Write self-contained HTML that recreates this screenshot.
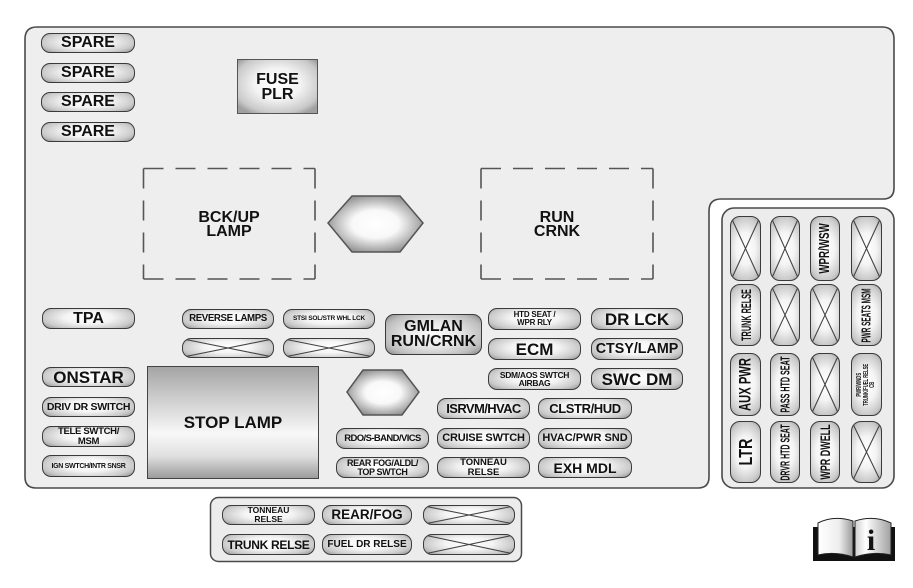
<!DOCTYPE html>
<html><head><meta charset="utf-8">
<style>
html,body{margin:0;padding:0;background:#fff;}
body{width:913px;height:588px;position:relative;overflow:hidden;font-family:"Liberation Sans",Arial,sans-serif;}
.c{position:absolute;box-sizing:border-box;border:1.6px solid #3a3a3a;border-radius:9px;display:flex;align-items:center;justify-content:center;text-align:center;font-weight:bold;color:#111;line-height:1;white-space:nowrap;overflow:visible;
background:radial-gradient(ellipse 62% 80% at 50% 45%,#ffffff 0%,#f4f4f4 42%,#cacaca 80%,#9c9c9c 100%);}
.v{border-radius:10px;background:radial-gradient(ellipse 80% 62% at 50% 50%,#ffffff 0%,#f4f4f4 42%,#cacaca 80%,#9c9c9c 100%);}
.v span{display:block;white-space:nowrap;}
.x{overflow:hidden;}
.x svg{position:absolute;left:0;top:0;width:100%;height:100%;}
.t{position:absolute;font-weight:bold;text-align:center;line-height:14px;font-size:16px;color:#111;}
</style></head><body>
<svg width="913" height="588" style="position:absolute;left:0;top:0">
<defs>
<radialGradient id="hx" cx="50%" cy="50%" r="55%">
<stop offset="0" stop-color="#ffffff"/><stop offset="0.45" stop-color="#f8f8f8"/><stop offset="1" stop-color="#8c8c8c"/>
</radialGradient>
<linearGradient id="pg" x1="0" y1="0" x2="1" y2="0">
<stop offset="0" stop-color="#ffffff"/><stop offset="0.6" stop-color="#eeeeee"/><stop offset="1" stop-color="#9a9a9a"/>
</linearGradient>
<linearGradient id="pg2" x1="0" y1="0" x2="1" y2="0">
<stop offset="0" stop-color="#cfcfcf"/><stop offset="0.3" stop-color="#ffffff"/><stop offset="1" stop-color="#a0a0a0"/>
</linearGradient>
</defs>
<path d="M37,27 H882 Q894,27 894,39 V188 Q894,199 883,199 H721 Q709,199 709,211 V477 Q709,488 698,488 H36 Q25,488 25,477 V39 Q25,27 37,27 Z" fill="#eeeeee" stroke="#4a4a4a" stroke-width="1.6"/>
<rect x="722" y="208" width="172" height="280" rx="12" fill="#ececec" stroke="#4a4a4a" stroke-width="1.6"/>
<rect x="210.5" y="497.5" width="311" height="64" rx="8" fill="#ececec" stroke="#4a4a4a" stroke-width="1.5"/>
<g fill="none" stroke="#555" stroke-width="1.6" stroke-dasharray="20 12">
<path d="M143.5,168.5 H315"/><path d="M143.5,279 H315"/><path d="M143.5,168.5 V279"/><path d="M315,168.5 V279"/>
<path d="M481,168.5 H653"/><path d="M481,279 H653"/><path d="M481,168.5 V279"/><path d="M653,168.5 V279"/>
</g>
<polygon points="328,223 352,196 400,196 423,223 400,252 352,252" fill="url(#hx)" stroke="#555" stroke-width="1.5"/>
<polygon points="347,392 363,370 402,370 419,392 402,415 363,415" fill="url(#hx)" stroke="#555" stroke-width="1.5"/>
<g transform="translate(810,514)">
<path d="M3,13 H85 V47 H3 Z" fill="#111"/>
<path d="M8,9 Q24,1 43,7 L43,43 Q25,37 8,41 Z" fill="url(#pg)" stroke="#222" stroke-width="1"/>
<path d="M45,7 Q64,1 81,9 L81,41 Q64,37 45,43 Z" fill="url(#pg2)" stroke="#222" stroke-width="1"/>
<text x="61" y="36" font-family="Liberation Serif, serif" font-weight="bold" font-size="30" text-anchor="middle" fill="#111">i</text>
</g>
</svg>

<div class="c" style="left:41px;top:33px;width:94px;height:20px;font-size:16px;">SPARE</div>
<div class="c" style="left:41px;top:63px;width:94px;height:20px;font-size:16px;">SPARE</div>
<div class="c" style="left:41px;top:92px;width:94px;height:20px;font-size:16px;">SPARE</div>
<div class="c" style="left:41px;top:122px;width:94px;height:20px;font-size:16px;">SPARE</div>

<div class="c" style="left:237px;top:59px;width:81px;height:55px;border-radius:0;border-color:#555;font-size:16px;line-height:15px;background:radial-gradient(ellipse 65% 65% at 50% 45%,#fff 0%,#f3f3f3 45%,#c9c9c9 85%,#a0a0a0 100%);">FUSE<br>PLR</div>

<div class="t" style="left:143px;top:211px;width:172px;">BCK/UP<br>LAMP</div>
<div class="t" style="left:517px;top:211px;width:80px;">RUN<br>CRNK</div>

<div class="c" style="left:42px;top:308px;width:93px;height:21px;font-size:16px;">TPA</div>
<div class="c" style="left:42px;top:367px;width:93px;height:20px;font-size:17px;">ONSTAR</div>
<div class="c" style="left:42px;top:397px;width:93px;height:20px;font-size:10.5px;letter-spacing:-0.3px;">DRIV DR SWITCH</div>
<div class="c" style="left:42px;top:426px;width:93px;height:21px;font-size:9.5px;line-height:9.5px;letter-spacing:-0.3px;">TELE SWTCH/<br>MSM</div>
<div class="c" style="left:42px;top:455px;width:93px;height:22px;font-size:7px;letter-spacing:-0.3px;">IGN SWTCH/INTR SNSR</div>

<div class="c" style="left:147px;top:366px;width:172px;height:113px;border-radius:0;border-color:#444;font-size:17px;background:linear-gradient(to bottom,#a4a4a4 0%,#cdcdcd 28%,#f8f8f8 60%,#e0e0e0 80%,#9c9c9c 100%);">STOP LAMP</div>

<div class="c" style="left:182px;top:309px;width:92px;height:20px;font-size:9.7px;letter-spacing:-0.4px;">REVERSE LAMPS</div>
<div class="c" style="left:283px;top:309px;width:92px;height:20px;font-size:6.5px;letter-spacing:-0.2px;">STSI SOL/STR WHL LCK</div>
<div class="c x" style="left:182px;top:338px;width:92px;height:20px;"><svg viewBox="0 0 100 100" preserveAspectRatio="none"><path d="M0 0L100 100M0 100L100 0" stroke="#444" stroke-width="1.1" vector-effect="non-scaling-stroke" fill="none"/></svg></div>
<div class="c x" style="left:283px;top:338px;width:92px;height:20px;"><svg viewBox="0 0 100 100" preserveAspectRatio="none"><path d="M0 0L100 100M0 100L100 0" stroke="#444" stroke-width="1.1" vector-effect="non-scaling-stroke" fill="none"/></svg></div>

<div class="c" style="left:385px;top:314px;width:97px;height:41px;font-size:16px;line-height:14.5px;background:radial-gradient(ellipse 62% 70% at 50% 50%,#fafafa 0%,#e8e8e8 45%,#bdbdbd 85%,#9a9a9a 100%);">GMLAN<br>RUN/CRNK</div>

<div class="c" style="left:488px;top:308px;width:93px;height:22px;font-size:8px;line-height:8.5px;letter-spacing:-0.2px;">HTD SEAT /<br>WPR RLY</div>
<div class="c" style="left:591px;top:308px;width:92px;height:22px;font-size:17px;">DR LCK</div>
<div class="c" style="left:488px;top:338px;width:93px;height:22px;font-size:17px;">ECM</div>
<div class="c" style="left:591px;top:338px;width:92px;height:22px;font-size:14.3px;">CTSY/LAMP</div>
<div class="c" style="left:488px;top:368px;width:93px;height:22px;font-size:8.5px;line-height:8px;letter-spacing:-0.3px;">SDM/AOS SWTCH<br>AIRBAG</div>
<div class="c" style="left:591px;top:368px;width:92px;height:22px;font-size:17px;">SWC DM</div>

<div class="c" style="left:437px;top:398px;width:93px;height:21px;font-size:13px;letter-spacing:-0.6px;">ISRVM/HVAC</div>
<div class="c" style="left:538px;top:398px;width:94px;height:21px;font-size:13px;letter-spacing:-0.4px;">CLSTR/HUD</div>
<div class="c" style="left:336px;top:428px;width:93px;height:21px;font-size:9.5px;letter-spacing:-0.6px;">RDO/S-BAND/VICS</div>
<div class="c" style="left:437px;top:428px;width:93px;height:21px;font-size:11px;letter-spacing:-0.2px;">CRUISE SWTCH</div>
<div class="c" style="left:538px;top:428px;width:94px;height:21px;font-size:11px;">HVAC/PWR SND</div>
<div class="c" style="left:336px;top:457px;width:93px;height:21px;font-size:9px;line-height:9px;letter-spacing:-0.4px;">REAR FOG/ALDL/<br>TOP SWTCH</div>
<div class="c" style="left:437px;top:457px;width:93px;height:21px;font-size:9.5px;line-height:9.5px;">TONNEAU<br>RELSE</div>
<div class="c" style="left:538px;top:457px;width:94px;height:21px;font-size:14px;">EXH MDL</div>

<div class="c" style="left:222px;top:505px;width:93px;height:20px;font-size:8.5px;line-height:9.5px;">TONNEAU<br>RELSE</div>
<div class="c" style="left:322px;top:505px;width:90px;height:20px;font-size:13.5px;">REAR/FOG</div>
<div class="c x" style="left:423px;top:505px;width:92px;height:20px;"><svg viewBox="0 0 100 100" preserveAspectRatio="none"><path d="M0 0L100 100M0 100L100 0" stroke="#444" stroke-width="1.1" vector-effect="non-scaling-stroke" fill="none"/></svg></div>
<div class="c" style="left:222px;top:534px;width:93px;height:21px;font-size:12px;letter-spacing:-0.3px;">TRUNK RELSE</div>
<div class="c" style="left:322px;top:534px;width:90px;height:21px;font-size:10px;">FUEL DR RELSE</div>
<div class="c x" style="left:423px;top:534px;width:92px;height:21px;"><svg viewBox="0 0 100 100" preserveAspectRatio="none"><path d="M0 0L100 100M0 100L100 0" stroke="#444" stroke-width="1.1" vector-effect="non-scaling-stroke" fill="none"/></svg></div>

<div class="c v x" style="left:730px;top:216px;width:31px;height:65px;"><svg viewBox="0 0 100 100" preserveAspectRatio="none"><path d="M0 0L100 100M0 100L100 0" stroke="#444" stroke-width="1.1" vector-effect="non-scaling-stroke" fill="none"/></svg></div>
<div class="c v x" style="left:770px;top:216px;width:30px;height:65px;"><svg viewBox="0 0 100 100" preserveAspectRatio="none"><path d="M0 0L100 100M0 100L100 0" stroke="#444" stroke-width="1.1" vector-effect="non-scaling-stroke" fill="none"/></svg></div>
<div class="c v" style="left:810px;top:216px;width:30px;height:65px;"><span style="font-size:15px;transform:rotate(-90deg) scaleX(.65);">WPR/WSW</span></div>
<div class="c v x" style="left:851px;top:216px;width:31px;height:65px;"><svg viewBox="0 0 100 100" preserveAspectRatio="none"><path d="M0 0L100 100M0 100L100 0" stroke="#444" stroke-width="1.1" vector-effect="non-scaling-stroke" fill="none"/></svg></div>

<div class="c v" style="left:730px;top:284px;width:31px;height:62px;"><span style="font-size:14px;transform:rotate(-90deg) scaleX(.52);">TRUNK RELSE</span></div>
<div class="c v x" style="left:770px;top:284px;width:30px;height:62px;"><svg viewBox="0 0 100 100" preserveAspectRatio="none"><path d="M0 0L100 100M0 100L100 0" stroke="#444" stroke-width="1.1" vector-effect="non-scaling-stroke" fill="none"/></svg></div>
<div class="c v x" style="left:810px;top:284px;width:30px;height:62px;"><svg viewBox="0 0 100 100" preserveAspectRatio="none"><path d="M0 0L100 100M0 100L100 0" stroke="#444" stroke-width="1.1" vector-effect="non-scaling-stroke" fill="none"/></svg></div>
<div class="c v" style="left:851px;top:284px;width:31px;height:62px;"><span style="font-size:13px;transform:rotate(-90deg) scaleX(.49);">PWR SEATS MSM</span></div>

<div class="c v" style="left:730px;top:353px;width:31px;height:63px;"><span style="font-size:17px;transform:rotate(-90deg) scaleX(.66);">AUX PWR</span></div>
<div class="c v" style="left:770px;top:353px;width:30px;height:63px;"><span style="font-size:13px;transform:rotate(-90deg) scaleX(.55);">PASS HTD SEAT</span></div>
<div class="c v x" style="left:810px;top:353px;width:30px;height:63px;"><svg viewBox="0 0 100 100" preserveAspectRatio="none"><path d="M0 0L100 100M0 100L100 0" stroke="#444" stroke-width="1.1" vector-effect="non-scaling-stroke" fill="none"/></svg></div>
<div class="c v" style="left:851px;top:353px;width:31px;height:63px;"><span style="font-size:7px;line-height:6.5px;text-align:center;transform:rotate(-90deg) scaleX(.6);">PWR/WNDS<br>TRUNK/FUEL RELSE<br>CB</span></div>

<div class="c v" style="left:730px;top:421px;width:31px;height:62px;"><span style="font-size:18px;transform:rotate(-90deg) scaleX(.8);">LTR</span></div>
<div class="c v" style="left:770px;top:421px;width:30px;height:62px;"><span style="font-size:13px;transform:rotate(-90deg) scaleX(.54);">DRVR HTD SEAT</span></div>
<div class="c v" style="left:810px;top:421px;width:30px;height:62px;"><span style="font-size:14px;transform:rotate(-90deg) scaleX(.64);">WPR DWELL</span></div>
<div class="c v x" style="left:851px;top:421px;width:31px;height:62px;"><svg viewBox="0 0 100 100" preserveAspectRatio="none"><path d="M0 0L100 100M0 100L100 0" stroke="#444" stroke-width="1.1" vector-effect="non-scaling-stroke" fill="none"/></svg></div>

</body></html>
